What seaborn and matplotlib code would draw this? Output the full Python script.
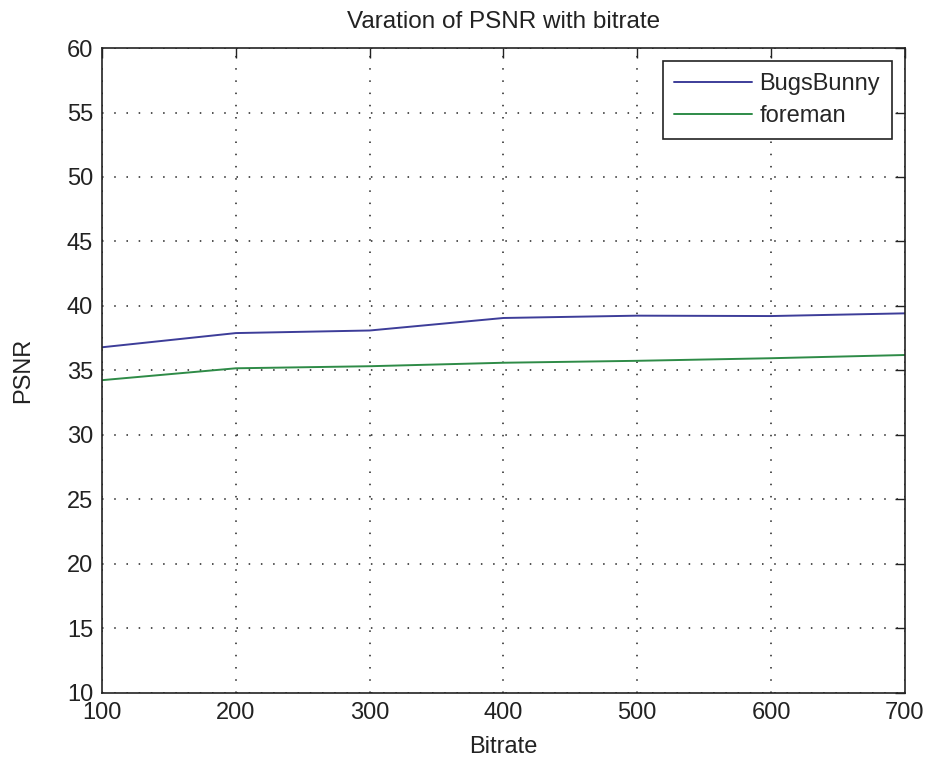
import matplotlib
matplotlib.use("Agg")
import matplotlib.pyplot as plt
import seaborn as sns
import pandas as pd

bitrate = [100, 200, 300, 400, 500, 600, 700]
bugsbunny = [36.8, 37.9, 38.1, 39.07, 39.25, 39.22, 39.43]
foreman = [34.25, 35.17, 35.33, 35.6, 35.75, 35.95, 36.2]
series_names = ["BugsBunny", "foreman"]
x_ticks = [100, 200, 300, 400, 500, 600, 700]
y_ticks = [10, 15, 20, 25, 30, 35, 40, 45, 50, 55, 60]

df = pd.DataFrame({
    "Bitrate": bitrate * 2,
    "PSNR": bugsbunny + foreman,
    "series": [series_names[0]] * len(bitrate) + [series_names[1]] * len(bitrate),
})

sns.set_theme(style="white")
plt.rcParams["font.family"] = ["Liberation Sans", "DejaVu Sans"]

fig = plt.figure(figsize=(9.28, 7.62), dpi=100)
ax = fig.add_axes([0.110, 0.0906, 0.865, 0.8464])

sns.lineplot(data=df, x="Bitrate", y="PSNR", hue="series",
             palette={"BugsBunny": "#3d3d99", "foreman": "#2e8b47"},
             linewidth=1.4, ax=ax)

ax.set_xlim(100, 700)
ax.set_ylim(10, 60)
ax.set_xticks(x_ticks)
ax.set_yticks(y_ticks)
ax.tick_params(direction="in", length=7, width=1, top=True, right=True,
               labelsize=17, colors="#222222", pad=6.5)
ax.grid(True, color="#222222", linestyle=(0, (1, 7)), linewidth=1.1)
for s in ax.spines.values():
    s.set_color("#222222")
    s.set_linewidth(1.2)

ax.set_title("Varation of PSNR with bitrate", fontsize=17.5, color="#222222", pad=14.5)
ax.set_xlabel("Bitrate", fontsize=17, color="#222222")
ax.set_ylabel("PSNR", fontsize=17, color="#222222")
ax.xaxis.set_label_coords(0.5, -0.0667)
ax.yaxis.set_label_coords(-0.085, 0.5)

leg = ax.legend(loc="upper right", fontsize=17, frameon=True, fancybox=False,
                edgecolor="#222222", framealpha=1, borderpad=0.5,
                handlelength=3.3, handletextpad=0.3, labelspacing=0.45,
                borderaxespad=0.55)
leg.get_frame().set_linewidth(1.2)
leg.set_title(None)

fig.savefig("out.png", dpi=100, facecolor="white")
